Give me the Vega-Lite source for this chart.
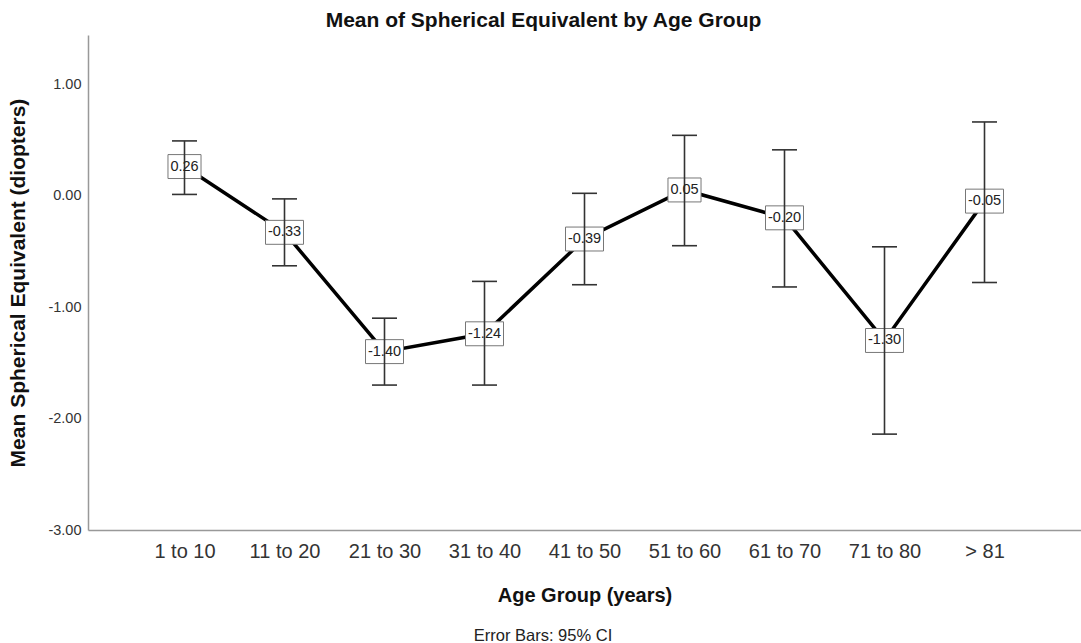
{
  "$schema": "https://vega.github.io/schema/vega-lite/v6.json",
  "width": 993,
  "height": 495,
  "autosize": {"type": "none"},
  "padding": {"left": 88, "top": 35, "right": 0, "bottom": 113},
  "background": "white",
  "config": {
    "font": "Liberation Sans",
    "view": {"stroke": null},
    "axis": {"grid": false, "ticks": false, "tickSize": 0, "domainColor": "#999999", "domainWidth": 1.5}
  },
  "title": {
    "text": "Mean of Spherical Equivalent  by Age Group",
    "fontSize": 21,
    "fontWeight": "bold",
    "color": "#111111",
    "baseline": "alphabetic",
    "offset": 7,
    "dy": 20,
    "dx": -41,
    "anchor": "middle"
  },
  "data": {
    "values": [
      {"group": "1 to 10", "mean": 0.26, "lo": 0.01, "hi": 0.49},
      {"group": "11 to 20", "mean": -0.33, "lo": -0.63, "hi": -0.03},
      {"group": "21 to 30", "mean": -1.40, "lo": -1.70, "hi": -1.10},
      {"group": "31 to 40", "mean": -1.24, "lo": -1.70, "hi": -0.77},
      {"group": "41 to 50", "mean": -0.39, "lo": -0.80, "hi": 0.02},
      {"group": "51 to 60", "mean": 0.05, "lo": -0.45, "hi": 0.54},
      {"group": "61 to 70", "mean": -0.20, "lo": -0.82, "hi": 0.41},
      {"group": "71  to 80", "mean": -1.30, "lo": -2.14, "hi": -0.46},
      {"group": "> 81", "mean": -0.05, "lo": -0.78, "hi": 0.66}
    ]
  },
  "transform": [
    {"calculate": "replace(format(datum.mean, '.2f'), '\u2212', '-')", "as": "label"}
  ],
  "resolve": {"axis": {"x": "independent"}},
  "layer": [
    {
      "mark": {"type": "line", "color": "black", "strokeWidth": 3.5},
      "encoding": {
        "x": {"field": "group", "type": "nominal", "sort": null,
          "scale": {"type": "point", "padding": 0.965},
          "axis": {"orient": "bottom", "title": "Age Group (years)", "labelAngle": 0, "labelFontSize": 20, "labelColor": "#333333", "labelPadding": 11,
            "titleFontSize": 20, "titleFontWeight": "bold", "titleColor": "#111111", "titlePadding": 24}},
        "y": {"field": "mean", "type": "quantitative",
          "scale": {"domain": [-3, 1.44], "nice": false, "zero": false},
          "axis": {"title": "Mean Spherical Equivalent (diopters)", "values": [-3, -2, -1, 0, 1], "format": ".2f",
            "labelExpr": "replace(datum.label, '\u2212', '-')",
            "labelFontSize": 14.5, "labelColor": "#333333", "labelPadding": 7,
            "titleFontSize": 21, "titleFontWeight": "bold", "titleColor": "#111111", "titlePadding": 19}}
      }
    },
    {
      "mark": {"type": "point", "filled": true, "fill": "white", "stroke": "#777777", "strokeWidth": 1, "opacity": 1, "size": 1444},
      "encoding": {
        "x": {"field": "group", "type": "nominal", "sort": null, "scale": {"type": "point", "padding": 0.965}, "axis": null},
        "y": {"field": "mean", "type": "quantitative", "scale": {"domain": [-3, 1.44], "nice": false, "zero": false}},
        "shape": {"condition": {"test": "datum.mean >= 0", "value": "M-0.87,-0.63L0.87,-0.63L0.87,0.63L-0.87,0.63Z"}, "value": "M-1,-0.63L1,-0.63L1,0.63L-1,0.63Z"}
      }
    },
    {
      "mark": {"type": "rule", "color": "#333333", "strokeWidth": 1.6},
      "encoding": {
        "x": {"field": "group", "type": "nominal", "sort": null, "scale": {"type": "point", "padding": 0.965}, "axis": null},
        "y": {"field": "lo", "type": "quantitative", "scale": {"domain": [-3, 1.44], "nice": false, "zero": false}},
        "y2": {"field": "hi"}
      }
    },
    {
      "mark": {"type": "tick", "color": "#333333", "thickness": 1.6, "size": 25, "opacity": 1},
      "encoding": {
        "x": {"field": "group", "type": "nominal", "sort": null, "scale": {"type": "point", "padding": 0.965}, "axis": null},
        "y": {"field": "lo", "type": "quantitative", "scale": {"domain": [-3, 1.44], "nice": false, "zero": false}}
      }
    },
    {
      "mark": {"type": "tick", "color": "#333333", "thickness": 1.6, "size": 25, "opacity": 1},
      "encoding": {
        "x": {"field": "group", "type": "nominal", "sort": null, "scale": {"type": "point", "padding": 0.965}, "axis": null},
        "y": {"field": "hi", "type": "quantitative", "scale": {"domain": [-3, 1.44], "nice": false, "zero": false}}
      }
    },
    {
      "mark": {"type": "text", "fontSize": 14.5, "color": "#222222", "align": "center", "baseline": "middle"},
      "encoding": {
        "x": {"field": "group", "type": "nominal", "sort": null, "scale": {"type": "point", "padding": 0.965},
          "axis": {"orient": "bottom", "title": "Error Bars: 95% CI", "labels": false, "domain": false, "ticks": false,
            "titlePadding": 97, "titleFontSize": 16.5, "titleFontWeight": "normal", "titleColor": "#222222", "titleX": 454.5}},
        "y": {"field": "mean", "type": "quantitative", "scale": {"domain": [-3, 1.44], "nice": false, "zero": false}},
        "text": {"field": "label", "type": "nominal"}
      }
    }
  ]
}
